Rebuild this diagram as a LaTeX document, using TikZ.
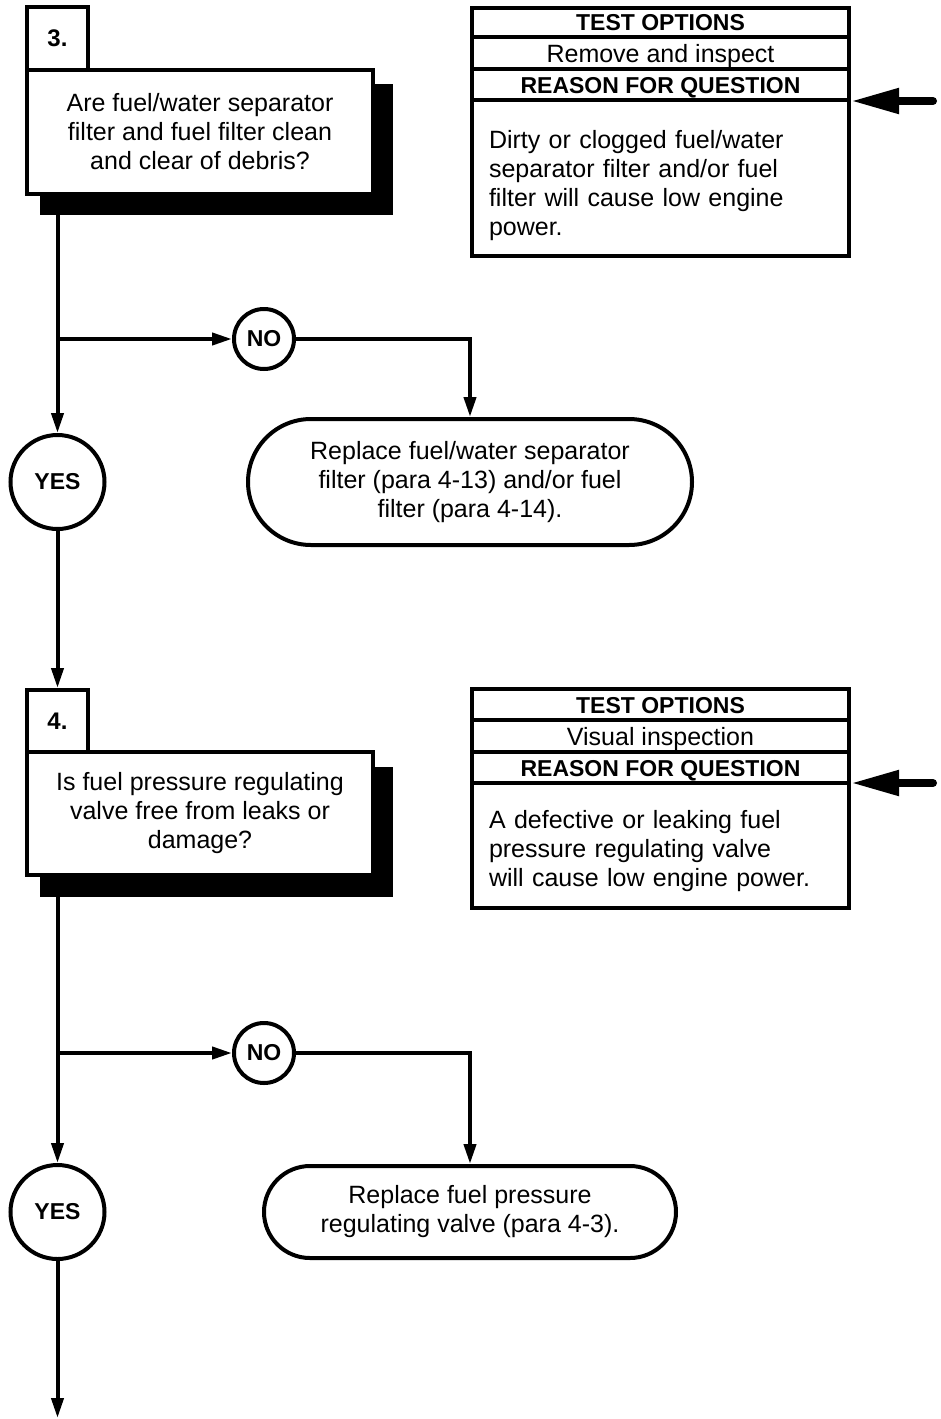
\documentclass[tikz,border=0pt]{standalone}
\usepackage{fontspec}
\setmainfont{Liberation Sans}
\usetikzlibrary{arrows.meta,shapes.misc}
\begin{document}
\begin{tikzpicture}[x=1pt,y=-1pt,line width=4pt,
  every node/.style={inner sep=0pt,font=\fontsize{25}{29}\selectfont},
  boldtxt/.style={font=\fontsize{23}{29}\selectfont\bfseries},
  qbox/.style={draw,fill=white,minimum width=346pt,minimum height=124pt,align=center},
  numbox/.style={draw,fill=white,minimum width=61pt,minimum height=63pt,font=\fontsize{24}{29}\selectfont\bfseries},
  shadowbox/.style={fill=black,draw=none},
  testbox/.style={draw,minimum width=377pt},
  bodytxt/.style={anchor=base west,text width=360pt,align=left},
  rowtxt/.style={anchor=base},
  answer/.style={draw,circle,fill=white,font=\fontsize{23}{26}\selectfont\bfseries},
  actbox/.style={draw,rounded rectangle,fill=white,align=center},
  arr/.style={-{Triangle[length=20pt,width=12pt]}},
  bigarr/.style={line width=8pt,line cap=round,-{Triangle[length=48pt,width=24pt]}}
]
\useasboundingbox (0,0) rectangle (940,1419);

% ---------- step 3 ----------
\fill[shadowbox] (40,84) rectangle (393,215);
\node[qbox] (q3) at (200,132) {Are fuel/water separator\\filter and fuel filter clean\\and clear of debris?};
\node[numbox] (n3) at (57.5,38.5) {3.};

\node[testbox,minimum height=248pt] (t1) at (660.5,132) {};
\draw (t1.west |- 0,37) -- (t1.east |- 0,37);
\draw (t1.west |- 0,69) -- (t1.east |- 0,69);
\draw (t1.west |- 0,100) -- (t1.east |- 0,100);
\node[rowtxt,boldtxt] (t1a) at (660.5,30) {TEST OPTIONS};
\node[rowtxt] (t1b) at (660.5,62) {Remove and inspect};
\node[rowtxt,boldtxt] (t1c) at (660.5,93) {REASON FOR QUESTION};
\node[bodytxt] (t1d) at (487,148) {Dirty or clogged fuel/water\\separator filter and/or fuel\\filter will cause low engine\\power.};
\coordinate (a1) at (933,101);
\draw[bigarr] (a1) -- (t1.east |- a1);

\node[answer,minimum size=60pt] (no1) at (264,339) {NO};
\node[answer,minimum size=94pt] (yes1) at (57.5,482) {YES};
\node[actbox,minimum width=444pt,minimum height=126pt] (r1) at (470,482) {Replace fuel/water separator\\filter (para 4-13) and/or fuel\\filter (para 4-14).};
\coordinate (j1) at (57.5,339);

\draw[arr] (yes1 |- q3.south) -- (yes1.north);
\draw[arr] (j1) -- (no1.west);
\draw[arr] (no1.east) -- (r1.north |- no1) -- (r1.north);

% ---------- step 4 ----------
\fill[shadowbox] (40,767) rectangle (393,897);
\node[qbox,minimum height=123pt] (q4) at (200,813.5) {Is fuel pressure regulating\\valve free from leaks or\\damage?};
\node[numbox,minimum height=62pt] (n4) at (57.5,721) {4.};
\draw[arr] (yes1.south) -- (n4.north);

\node[testbox,minimum height=219pt] (t2) at (660.5,798.5) {};
\draw (t2.west |- 0,720) -- (t2.east |- 0,720);
\draw (t2.west |- 0,752) -- (t2.east |- 0,752);
\draw (t2.west |- 0,783) -- (t2.east |- 0,783);
\node[rowtxt,boldtxt] (t2a) at (660.5,713) {TEST OPTIONS};
\node[rowtxt] (t2b) at (660.5,745) {Visual inspection};
\node[rowtxt,boldtxt] (t2c) at (660.5,776) {REASON FOR QUESTION};
\node[bodytxt] (t2d) at (487,828) {A defective or leaking fuel\\pressure regulating valve\\will cause low engine power.};
\coordinate (a2) at (933,783);
\draw[bigarr] (a2) -- (t2.east |- a2);

\node[answer,minimum size=60pt] (no2) at (264,1053) {NO};
\node[answer,minimum size=94pt] (yes2) at (57.5,1212) {YES};
\node[actbox,minimum width=412pt,minimum height=92pt] (r2) at (470,1212) {Replace fuel pressure\\regulating valve (para 4-3).};
\coordinate (j2) at (57.5,1053);
\coordinate (endpt) at (57.5,1418);

\draw[arr] (yes2 |- q4.south) -- (yes2.north);
\draw[arr] (j2) -- (no2.west);
\draw[arr] (no2.east) -- (r2.north |- no2) -- (r2.north);
\draw[arr] (yes2.south) -- (endpt);
\end{tikzpicture}
\end{document}
